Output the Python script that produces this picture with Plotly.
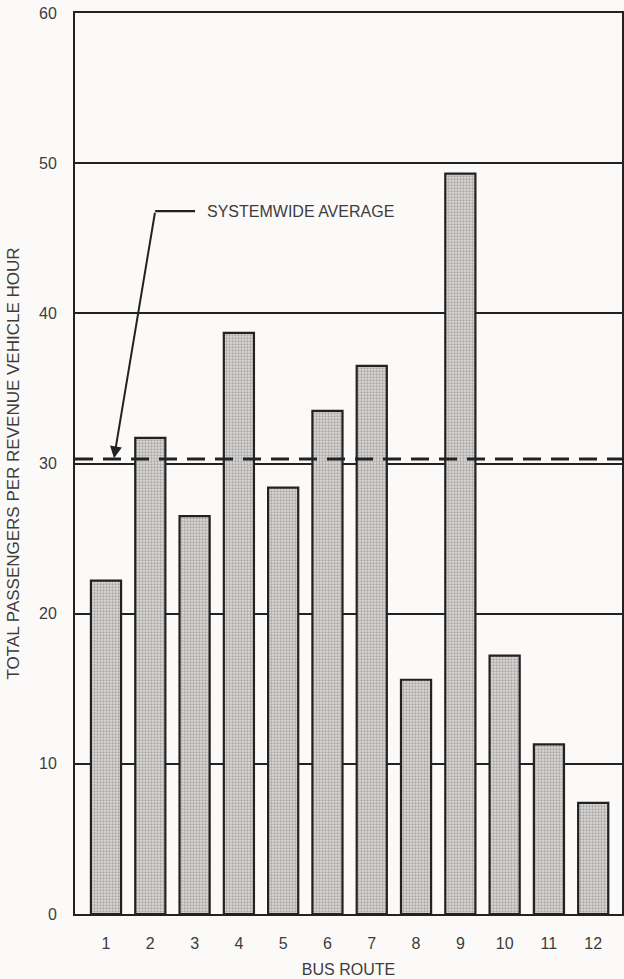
import plotly.graph_objects as go

routes = [1, 2, 3, 4, 5, 6, 7, 8, 9, 10, 11, 12]
passengers = [22.2, 31.7, 26.5, 38.7, 28.4, 33.5, 36.5, 15.6, 49.3, 17.2, 11.3, 7.4]
systemwide_average = 30.3
y_ticks = [0, 10, 20, 30, 40, 50, 60]
x_title = "BUS ROUTE"
y_title = "TOTAL PASSENGERS PER REVENUE VEHICLE HOUR"
avg_label = "SYSTEMWIDE AVERAGE"

FONT = "Liberation Sans, Arial, sans-serif"
INK = "#222222"
TXT = "#3c3c3c"

fig = go.Figure()
fig.add_trace(go.Bar(
    x=routes, y=passengers, width=0.68,
    marker=dict(
        color="#dcdad8",
        line=dict(color=INK, width=2.2),
        pattern=dict(shape=".", fgcolor="#737373", bgcolor="#dcdad8", size=3, solidity=0.45),
    ),
    showlegend=False,
))

# systemwide average dashed line
fig.add_shape(type="line", xref="paper", x0=0, x1=1, yref="y",
              y0=systemwide_average, y1=systemwide_average,
              line=dict(color=INK, width=2.8, dash="18px,10px"), layer="above")

# leader: horizontal segment
fig.add_shape(type="line", xref="x", yref="y", x0=2.11, x1=3.01, y0=46.8, y1=46.8,
              line=dict(color=INK, width=2.2), layer="above")
# leader: slanted arrow
fig.add_annotation(x=1.18, y=systemwide_average + 0.05, ax=2.11, ay=46.8,
                   xref="x", yref="y", axref="x", ayref="y",
                   text="", showarrow=True, arrowhead=2, arrowsize=1.2,
                   arrowwidth=2, arrowcolor=INK)
fig.add_annotation(x=3.24, y=46.8, xref="x", yref="y", text=avg_label,
                   showarrow=False, xanchor="left", yanchor="middle",
                   font=dict(family=FONT, size=16, color=TXT))

fig.update_layout(
    width=624, height=979,
    margin=dict(l=75, r=2, t=13, b=65),
    paper_bgcolor="#fcfaf8", plot_bgcolor="#fcfaf8",
    font=dict(family=FONT, size=16, color=TXT),
)
fig.update_xaxes(
    range=[0.3, 12.65], tickmode="array", tickvals=routes,
    ticktext=[str(r) for r in routes],
    showgrid=False, showline=True, linecolor=INK, linewidth=2, mirror=True,
    ticks="", ticklabelstandoff=14, tickfont=dict(size=16, color=TXT),
    title=dict(text=x_title, standoff=13, font=dict(size=16, color=TXT)),
    zeroline=False, automargin=False,
)
fig.update_yaxes(
    range=[0, 60], tickmode="array", tickvals=y_ticks,
    showgrid=True, gridcolor=INK, gridwidth=1.6,
    showline=True, linecolor=INK, linewidth=2, mirror=True,
    ticks="", ticklabelstandoff=13, tickfont=dict(size=16, color=TXT),
    title=dict(text=y_title, standoff=15, font=dict(size=17, color=TXT)),
    zeroline=False, automargin=False,
)

fig.write_html(
    "out.html",
    config={"displayModeBar": False},
    post_script="document.body.style.margin='0';document.body.style.overflow='hidden';",
)
